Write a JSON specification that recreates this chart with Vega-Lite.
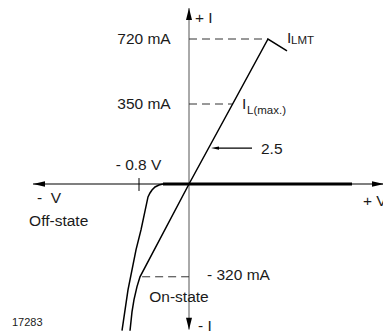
{
  "$schema": "https://vega.github.io/schema/vega-lite/v6.json",
  "width": 383,
  "height": 331,
  "padding": 0,
  "autosize": {"type": "none"},
  "background": "white",
  "config": {"view": {"stroke": null}, "text": {"font": "Liberation Sans", "color": "#1a1a1a"}},
  "datasets": {
    "axisV": [{"v": 0, "i": -502, "i2": 896}],
    "axisH": [{"v": -2.496, "v2": 3.104, "i": 0}],
    "arrows": [
      {"v": 0, "i": 862, "dir": "up"},
      {"v": 0, "i": -482, "dir": "down"},
      {"v": -2.4, "i": 0, "dir": "left"},
      {"v": 3.024, "i": 0, "dir": "right"},
      {"v": 0.416, "i": 157, "dir": "leftsmall"}
    ],
    "dashed": [
      {"v": 0, "v2": 1.264, "i": 720},
      {"v": 0, "v2": 0.698, "i": 350},
      {"v": -0.75, "v2": 0, "i": -320}
    ],
    "thick": [{"v": -0.416, "v2": 2.608, "i": 0}],
    "tick": [{"v": -0.8, "i": 26, "i2": -24}],
    "arrowline": [{"v": 0.48, "v2": 1.008, "i": 157}],
    "offcurve": [
      {"o": 0, "v": -0.416, "i": 0},
      {"o": 1, "v": -0.48, "i": -3.4},
      {"o": 2, "v": -0.544, "i": -10.3},
      {"o": 3, "v": -0.592, "i": -20.6},
      {"o": 4, "v": -0.624, "i": -31},
      {"o": 5, "v": -0.656, "i": -44.7},
      {"o": 6, "v": -0.768, "i": -158.3},
      {"o": 7, "v": -0.848, "i": -227},
      {"o": 8, "v": -0.976, "i": -364.8},
      {"o": 9, "v": -1.072, "i": -506}
    ],
    "oncurve": [
      {"o": 0, "v": 1.568, "i": 652},
      {"o": 1, "v": 1.264, "i": 720},
      {"o": 2, "v": 0.698, "i": 350},
      {"o": 3, "v": 0, "i": 0},
      {"o": 4, "v": -0.784, "i": -320},
      {"o": 5, "v": -0.832, "i": -354},
      {"o": 6, "v": -0.88, "i": -399},
      {"o": 7, "v": -0.912, "i": -441},
      {"o": 8, "v": -0.944, "i": -506}
    ],
    "labelsRight": [
      {"v": -0.293, "i": 720, "label": "720 mA"},
      {"v": -0.293, "i": 350, "label": "350 mA"}
    ],
    "labelsCenter": [
      {"v": -0.808, "i": 83, "label": "- 0.8 V"},
      {"v": -2.085, "i": -126, "label": "Off-state"},
      {"v": -0.16, "i": -389, "label": "On-state"}
    ],
    "labelsLeft": [
      {"v": -2.432, "i": -50, "label": "-\u00a0\u00a0V"},
      {"v": 2.784, "i": -58, "label": "+ V"},
      {"v": 0.288, "i": -315, "label": "- 320 mA"},
      {"v": 1.152, "i": 155, "label": "2.5"},
      {"v": 0.144, "i": -489, "label": "-\u00a0I"},
      {"v": 0.096, "i": 842, "label": "+ I"},
      {"v": 1.568, "i": 726, "label": "I"},
      {"v": 0.848, "i": 350, "label": "I"}
    ],
    "labelsSub": [
      {"v": 1.632, "i": 709, "label": "LMT"},
      {"v": 0.928, "i": 319, "label": "L(max.)"}
    ],
    "labelsSmall": [
      {"v": -2.832, "i": -480, "label": "17283"}
    ]
  },
  "encoding": {
    "x": {"field": "v", "type": "quantitative", "axis": null, "scale": {"domain": [-3.024, 3.104], "nice": false, "zero": false}},
    "y": {"field": "i", "type": "quantitative", "axis": null, "scale": {"domain": [-507, 0, 350, 942], "range": [331, 184, 104, 0], "nice": false, "zero": false}}
  },
  "layer": [
    {
      "data": {"name": "axisV"},
      "mark": {"type": "rule", "color": "#555555", "strokeWidth": 1},
      "encoding": {"y2": {"field": "i2"}}
    },
    {
      "data": {"name": "axisH"},
      "mark": {"type": "rule", "color": "#000000", "strokeWidth": 1.2},
      "encoding": {"x2": {"field": "v2"}}
    },
    {
      "data": {"name": "thick"},
      "mark": {"type": "rule", "color": "#000000", "strokeWidth": 3},
      "encoding": {"x2": {"field": "v2"}}
    },
    {
      "data": {"name": "dashed"},
      "mark": {"type": "rule", "color": "#333333", "strokeWidth": 1, "strokeDash": [8, 5]},
      "encoding": {"x2": {"field": "v2"}}
    },
    {
      "data": {"name": "tick"},
      "mark": {"type": "rule", "color": "#000000", "strokeWidth": 1},
      "encoding": {"y2": {"field": "i2"}}
    },
    {
      "data": {"name": "arrowline"},
      "mark": {"type": "rule", "color": "#000000", "strokeWidth": 1.2},
      "encoding": {"x2": {"field": "v2"}}
    },
    {
      "data": {"name": "offcurve"},
      "mark": {"type": "line", "color": "#000000", "strokeWidth": 1.5},
      "encoding": {"order": {"field": "o", "type": "quantitative"}}
    },
    {
      "data": {"name": "oncurve"},
      "mark": {"type": "line", "color": "#000000", "strokeWidth": 1.5, "strokeJoin": "miter"},
      "encoding": {"order": {"field": "o", "type": "quantitative"}}
    },
    {
      "data": {"name": "arrows"},
      "mark": {"type": "point", "filled": true, "color": "#000000", "opacity": 1, "size": 144, "strokeWidth": 0},
      "encoding": {
        "shape": {
          "field": "dir",
          "type": "nominal",
          "legend": null,
          "scale": {
            "domain": ["up", "down", "left", "right", "leftsmall"],
            "range": [
              "M0,-1L0.5,1L-0.5,1Z",
              "M0,1L0.5,-1L-0.5,-1Z",
              "M-1,0L1,-0.45L1,0.45Z",
              "M1,0L-1,-0.45L-1,0.45Z",
              "M-0.67,0L0.67,-0.28L0.67,0.28Z"
            ]
          }
        }
      }
    },
    {
      "data": {"name": "labelsRight"},
      "mark": {"type": "text", "align": "right", "baseline": "middle", "fontSize": 15.5},
      "encoding": {"text": {"field": "label"}}
    },
    {
      "data": {"name": "labelsCenter"},
      "mark": {"type": "text", "align": "center", "baseline": "middle", "fontSize": 15.5},
      "encoding": {"text": {"field": "label"}}
    },
    {
      "data": {"name": "labelsLeft"},
      "mark": {"type": "text", "align": "left", "baseline": "middle", "fontSize": 15.5},
      "encoding": {"text": {"field": "label"}}
    },
    {
      "data": {"name": "labelsSub"},
      "mark": {"type": "text", "align": "left", "baseline": "middle", "fontSize": 11.5},
      "encoding": {"text": {"field": "label"}}
    },
    {
      "data": {"name": "labelsSmall"},
      "mark": {"type": "text", "align": "left", "baseline": "middle", "fontSize": 11},
      "encoding": {"text": {"field": "label"}}
    }
  ]
}
